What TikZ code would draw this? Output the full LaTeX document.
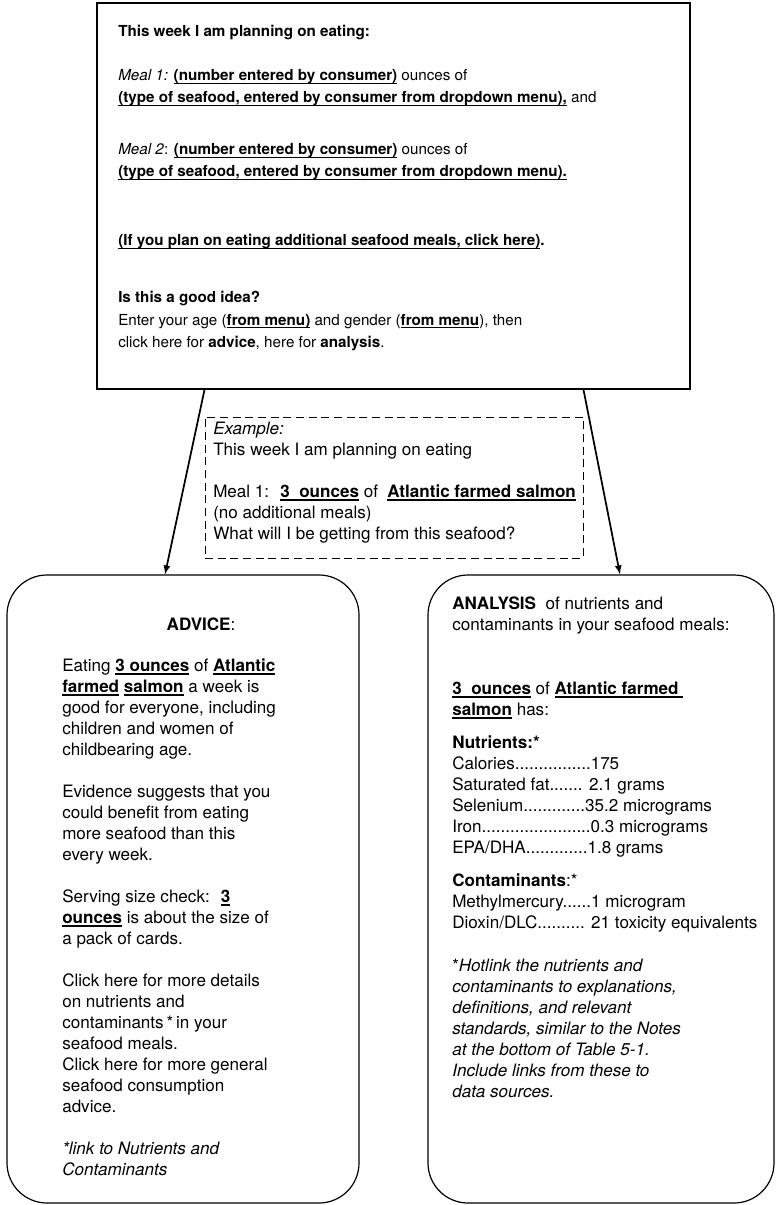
\documentclass[tikz,border=0pt]{standalone}
\usepackage{fontspec}
\setmainfont{TeX Gyre Heros}
\usetikzlibrary{arrows,positioning,calc}

% bold text with a heavy underline
\newcommand{\ubf}[1]{\setbox0\hbox{\bfseries #1}\rlap{\rule[-2.4pt]{\wd0}{1pt}}\box0\relax}

\begin{document}
\begin{tikzpicture}[
    x=0.75pt, y=-0.75pt,
    panel/.style={draw, line width=0.9pt, inner sep=0pt},
    roundpanel/.style={panel, rounded corners=30pt},
    expl/.style={draw, dashed, dash pattern=on 6pt off 3.5pt, line width=0.7pt, inner sep=0pt},
    toptext/.style={anchor=base west, inner sep=0pt, align=left, font=\fontsize{11.4pt}{16.5pt}\selectfont},
    bodytext/.style={anchor=base west, inner sep=0pt, align=left, font=\fontsize{12.8pt}{15.75pt}\selectfont},
    notetext/.style={bodytext, font=\fontsize{12.8pt}{15.75pt}\selectfont\itshape},
    line/.style={draw, -latex, line width=1.3pt}
]
\useasboundingbox (0,0) rectangle (775,1205);

% ----------------------------
% Boxes
% ----------------------------
\node[panel, minimum width=444.75pt, minimum height=289.5pt] (plan) at (393.5,196) {};
\node[expl, minimum width=283.5pt, minimum height=105.75pt] (example) at (394,487.5) {};
\node[roundpanel, minimum width=264pt, minimum height=471pt] (advice) at (183,889) {};
\node[roundpanel, minimum width=259.5pt, minimum height=471pt] (analysis) at (601,889) {};

% ----------------------------
% Input form (multi-line nodes sit on their last baseline)
% ----------------------------
\node[toptext] (planhead) at (118,37) {\textbf{This week I am planning on eating:}};
\node[toptext] (meal1) at (118,103) {\textit{Meal 1:} \ubf{(number entered by consumer)} ounces of\\
    \ubf{(type of seafood, entered by consumer from dropdown menu),} and};
\node[toptext] (meal2) at (118,177) {\textit{Meal 2}: \ubf{(number entered by consumer)} ounces of\\
    \ubf{(type of seafood, entered by consumer from dropdown menu).}};
\node[toptext] (moremeals) at (118,246) {\ubf{(If you plan on eating additional seafood meals, click here)}\textbf{.}};
\node[toptext] (goodidea) at (118,347) {\textbf{Is this a good idea?}\\
    Enter your age (\ubf{from menu)} and gender (\ubf{from menu}), then\\
    click here for \textbf{advice}, here for \textbf{analysis}.};

% Example
\node[bodytext] (exampletext) at (213,539.5) {\textit{Example:}\\
    This week I am planning on eating\\[15.75pt]
    Meal 1:~ \ubf{3~~ounces} of~ \ubf{Atlantic farmed salmon}\\
    (no additional meals)\\
    What will I be getting from this seafood?};

% ----------------------------
% Advice
% ----------------------------
\node[bodytext, anchor=base] (advicehead) at (201,630) {\textbf{ADVICE}:};
\node[bodytext] (advicetext) at (62,1112.5) {Eating \ubf{3 ounces} of \ubf{Atlantic}\\
    \ubf{farmed} \ubf{salmon} a week is\\
    good for everyone, including\\
    children and women of\\
    childbearing age.\\[15.75pt]
    Evidence suggests that you\\
    could benefit from eating\\
    more seafood than this\\
    every week.\\[15.75pt]
    Serving size check:~ \ubf{3}\\
    \ubf{ounces} is about the size of\\
    a pack of cards.\\[15.75pt]
    Click here for more details\\
    on nutrients and\\
    contaminants\,*\,in your\\
    seafood meals.\\
    Click here for more general\\
    seafood consumption\\
    advice.};
\node[notetext] (advicenote) at (62,1175.5) {*link to Nutrients and\\ Contaminants};

% ----------------------------
% Analysis
% ----------------------------
\node[bodytext] (analysistext) at (452,928.5) {\textbf{ANALYSIS}~ of nutrients and\\
    contaminants in your seafood meals:\\[32pt]
    \ubf{3~~ounces} of \ubf{Atlantic farmed~}\\
    \ubf{salmon} has:\\[9pt]
    \textbf{Nutrients:*}\\
    Calories................175\\
    Saturated fat....... 2.1 grams\\
    Selenium.............35.2 micrograms\\
    Iron.......................0.3 micrograms\\
    EPA/DHA.............1.8 grams\\[9pt]
    \textbf{Contaminants}:*\\
    Methylmercury......1 microgram\\
    Dioxin/DLC.......... 21 toxicity equivalents};
\node[notetext] (analysisnote) at (452,1097.5) {{\upshape*}Hotlink the nutrients and\\
    contaminants to explanations,\\
    definitions, and relevant\\
    standards, similar to the Notes\\
    at the bottom of Table 5-1.\\
    Include links from these to\\
    data sources.};

% ----------------------------
% Edges
% ----------------------------
\path[line] (plan.south -| example.west) -- ($(advice.north)+(-18,0)$);
\path[line] (plan.south -| example.east) -- ($(analysis.north)+(19,0)$);

\end{tikzpicture}
\end{document}
